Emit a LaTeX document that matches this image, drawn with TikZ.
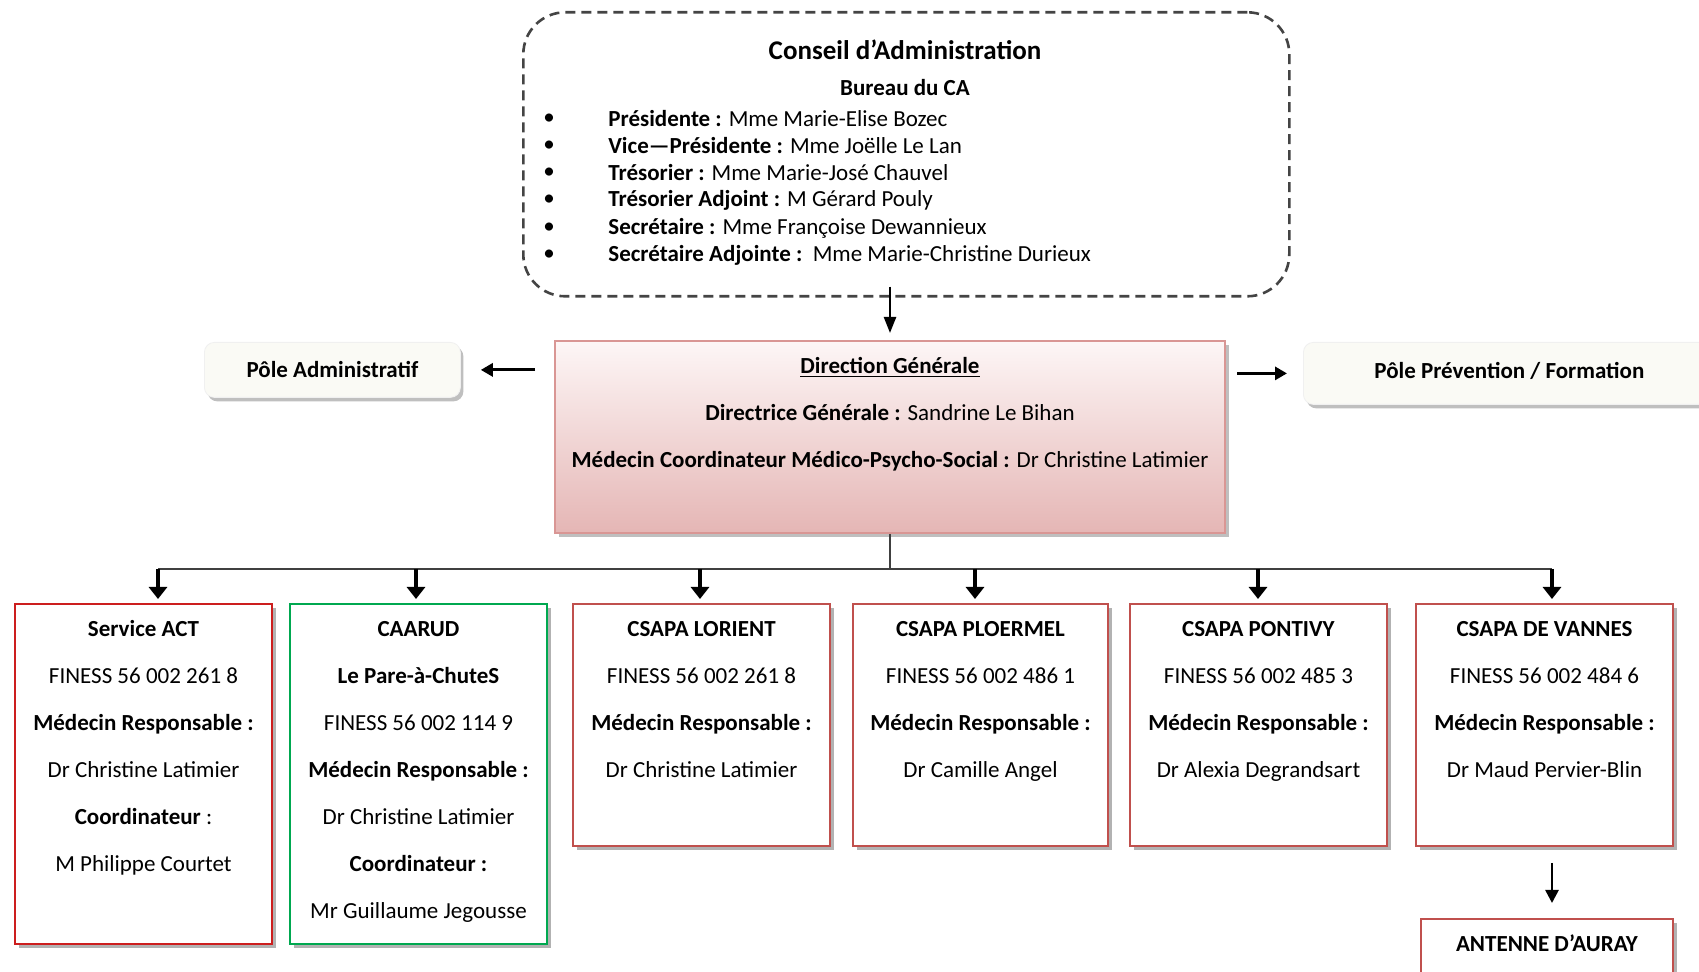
\documentclass[tikz,border=0pt]{standalone}
\usepackage{fontspec}
\setmainfont{Carlito}
\usetikzlibrary{arrows.meta,shadows}
\definecolor{boxred}{RGB}{192,80,77}
\definecolor{actred}{RGB}{204,30,30}
\definecolor{cagreen}{RGB}{0,168,80}
\definecolor{dgborder}{RGB}{217,150,148}
\definecolor{dgbottom}{RGB}{229,182,181}
\definecolor{dgtop}{RGB}{253,246,246}
\definecolor{polefill}{RGB}{250,250,245}
\definecolor{dashgray}{RGB}{68,68,68}
\newcommand{\cellbox}[3]{\parbox[c][#1][t]{#2}{\centering\fontsize{11.5}{23.5}\selectfont\strut #3\par}}
\begin{document}
\begin{tikzpicture}[x=0.5pt,y=-0.5pt,
  unitbox/.style={draw=boxred, line width=1pt, fill=white, inner sep=0pt, anchor=north west,
    drop shadow={shadow xshift=2.2pt,shadow yshift=-2.2pt,opacity=0.3,fill=black}},
  dgbox/.style={draw=dgborder, line width=1pt, top color=dgtop, bottom color=dgbottom, inner sep=0pt, anchor=north west,
    drop shadow={shadow xshift=2pt,shadow yshift=-2pt,opacity=0.25,fill=black}},
  polebox/.style={draw=black!6, fill=polefill, rounded corners=5pt, inner sep=0pt, anchor=north west,
    font=\fontsize{11.5}{14}\selectfont\bfseries,
    drop shadow={shadow xshift=1.5pt,shadow yshift=-2pt,opacity=0.25,fill=black}},
  cabox/.style={draw=dashgray, line width=1.3pt, dash pattern=on 5pt off 3pt, rounded corners=21pt,
    inner sep=0pt, anchor=north west, minimum width=383pt, minimum height=142pt},
  listtxt/.style={anchor=west, inner sep=0pt, font=\fontsize{11.5}{14}\selectfont},
  bullettxt/.style={inner sep=0pt, font=\fontsize{11.5}{14}\selectfont},
  busarrow/.style={line width=2pt, -{Triangle[length=6pt,width=9pt]}, shorten >=2pt},
  sidearrow/.style={line width=1.6pt, -{Triangle[length=6pt,width=6.5pt]}},
  thinarrow/.style={line width=1.2pt, -{Triangle[length=8pt,width=6pt]}},
  busline/.style={line width=1.3pt, draw=black!75}]
\useasboundingbox (0,0) rectangle (1699,972);
\clip (0,0) rectangle (1699,972);
\fill[white] (0,0) rectangle (1699,972);

% Conseil d'Administration
\node[cabox] (ca) at (522,11) {};
\node[inner sep=0pt, font=\fontsize{13.5}{16}\selectfont\bfseries] (catitle) at (905,50) {Conseil d’Administration};
\node[inner sep=0pt, font=\fontsize{11.5}{14}\selectfont\bfseries] (bureau) at (905,88) {Bureau du CA};
\node[bullettxt] (b1) at (549,119) {•};
\node[bullettxt] (b2) at (549,146) {•};
\node[bullettxt] (b3) at (549,173) {•};
\node[bullettxt] (b4) at (549,200) {•};
\node[bullettxt] (b5) at (549,228) {•};
\node[bullettxt] (b6) at (549,255) {•};
\node[listtxt] (l1) at (608,119) {\textbf{Présidente :} Mme Marie-Elise Bozec};
\node[listtxt] (l2) at (608,146) {\textbf{Vice—Présidente :} Mme Joëlle Le Lan};
\node[listtxt] (l3) at (608,173) {\textbf{Trésorier :} Mme Marie-José Chauvel};
\node[listtxt] (l4) at (608,200) {\textbf{Trésorier Adjoint :} M Gérard Pouly};
\node[listtxt] (l5) at (608,228) {\textbf{Secrétaire :} Mme Françoise Dewannieux};
\node[listtxt] (l6) at (608,255) {\textbf{Secrétaire Adjointe :}\ \ Mme Marie-Christine Durieux};

% Direction Generale
\node[dgbox] (dg) at (554,340) {\cellbox{96pt}{335pt}{\underline{\textbf{Direction Générale}}\\
  \textbf{Directrice Générale :} Sandrine Le Bihan\\
  \textbf{Médecin Coordinateur Médico-Psycho-Social :} Dr Christine Latimier}};

% Poles
\node[polebox, minimum width=128pt, minimum height=27.5pt] (pa) at (204,342) {Pôle Administratif};
\node[polebox, minimum width=206pt, minimum height=31pt] (pp) at (1303,342) {\raisebox{2.5pt}{Pôle Prévention / Formation}};

% Units
\node[unitbox, draw=actred] (act) at (14,603) {\cellbox{170pt}{128.5pt}{\textbf{Service ACT}\\
  FINESS 56 002 261 8\\ \textbf{Médecin Responsable :}\\ Dr Christine Latimier\\
  \textbf{Coordinateur} :\\ M Philippe Courtet}};
\node[unitbox, draw=cagreen] (caarud) at (289,603) {\cellbox{170pt}{128.5pt}{\textbf{CAARUD}\\
  \textbf{Le Pare-à-ChuteS}\\ FINESS 56 002 114 9\\ \textbf{Médecin Responsable :}\\
  Dr Christine Latimier\\ \textbf{Coordinateur :}\\ Mr Guillaume Jegousse}};
\node[unitbox] (lorient) at (572,603) {\cellbox{121pt}{128.5pt}{\textbf{CSAPA LORIENT}\\
  FINESS 56 002 261 8\\ \textbf{Médecin Responsable :}\\ Dr Christine Latimier}};
\node[unitbox] (ploermel) at (852,603) {\cellbox{121pt}{127.5pt}{\textbf{CSAPA PLOERMEL}\\
  FINESS 56 002 486 1\\ \textbf{Médecin Responsable :}\\ Dr Camille Angel}};
\node[unitbox] (pontivy) at (1129,603) {\cellbox{121pt}{128.5pt}{\textbf{CSAPA PONTIVY}\\
  FINESS 56 002 485 3\\ \textbf{Médecin Responsable :}\\ Dr Alexia Degrandsart}};
\node[unitbox] (vannes) at (1415,603) {\cellbox{121pt}{128.5pt}{\textbf{CSAPA DE VANNES}\\
  FINESS 56 002 484 6\\ \textbf{Médecin Responsable :}\\ Dr Maud Pervier-Blin}};
\node[unitbox] (auray) at (1420,918) {\cellbox{45pt}{126pt}{\textbf{ANTENNE D’AURAY}}};

% Connectors
\draw[thinarrow, shorten <=-5.5pt, shorten >=3.5pt] (dg.north |- ca.south) -- (dg.north);
\draw[sidearrow, shorten <=9.5pt, shorten >=10pt] (dg.west |- pa.east) -- (pa.east);
\draw[sidearrow, shorten <=5.5pt, shorten >=8pt] (dg.east |- pp.west) -- (pp.west);

\coordinate (busL) at (158,569);
\coordinate (busR) at (1552,569);
\coordinate (t1) at (158,569);
\coordinate (t2) at (416,569);
\coordinate (t3) at (700,569);
\coordinate (t4) at (975,569);
\coordinate (t5) at (1258,569);
\coordinate (t6) at (1552,569);
\draw[busline] (dg.south) -- (dg.south |- busL);
\draw[busline] (busL) -- (busR);
\draw[busarrow] (t1) -- (t1 |- act.north);
\draw[busarrow] (t2) -- (t2 |- caarud.north);
\draw[busarrow] (t3) -- (t3 |- lorient.north);
\draw[busarrow] (t4) -- (t4 |- ploermel.north);
\draw[busarrow] (t5) -- (t5 |- pontivy.north);
\draw[busarrow] (t6) -- (t6 |- vannes.north);
\draw[line width=1.3pt, -{Triangle[length=6.5pt,width=6.5pt]}, shorten <=8pt, shorten >=7.5pt] (t6 |- vannes.south) -- (t6 |- auray.north);
\end{tikzpicture}
\end{document}
